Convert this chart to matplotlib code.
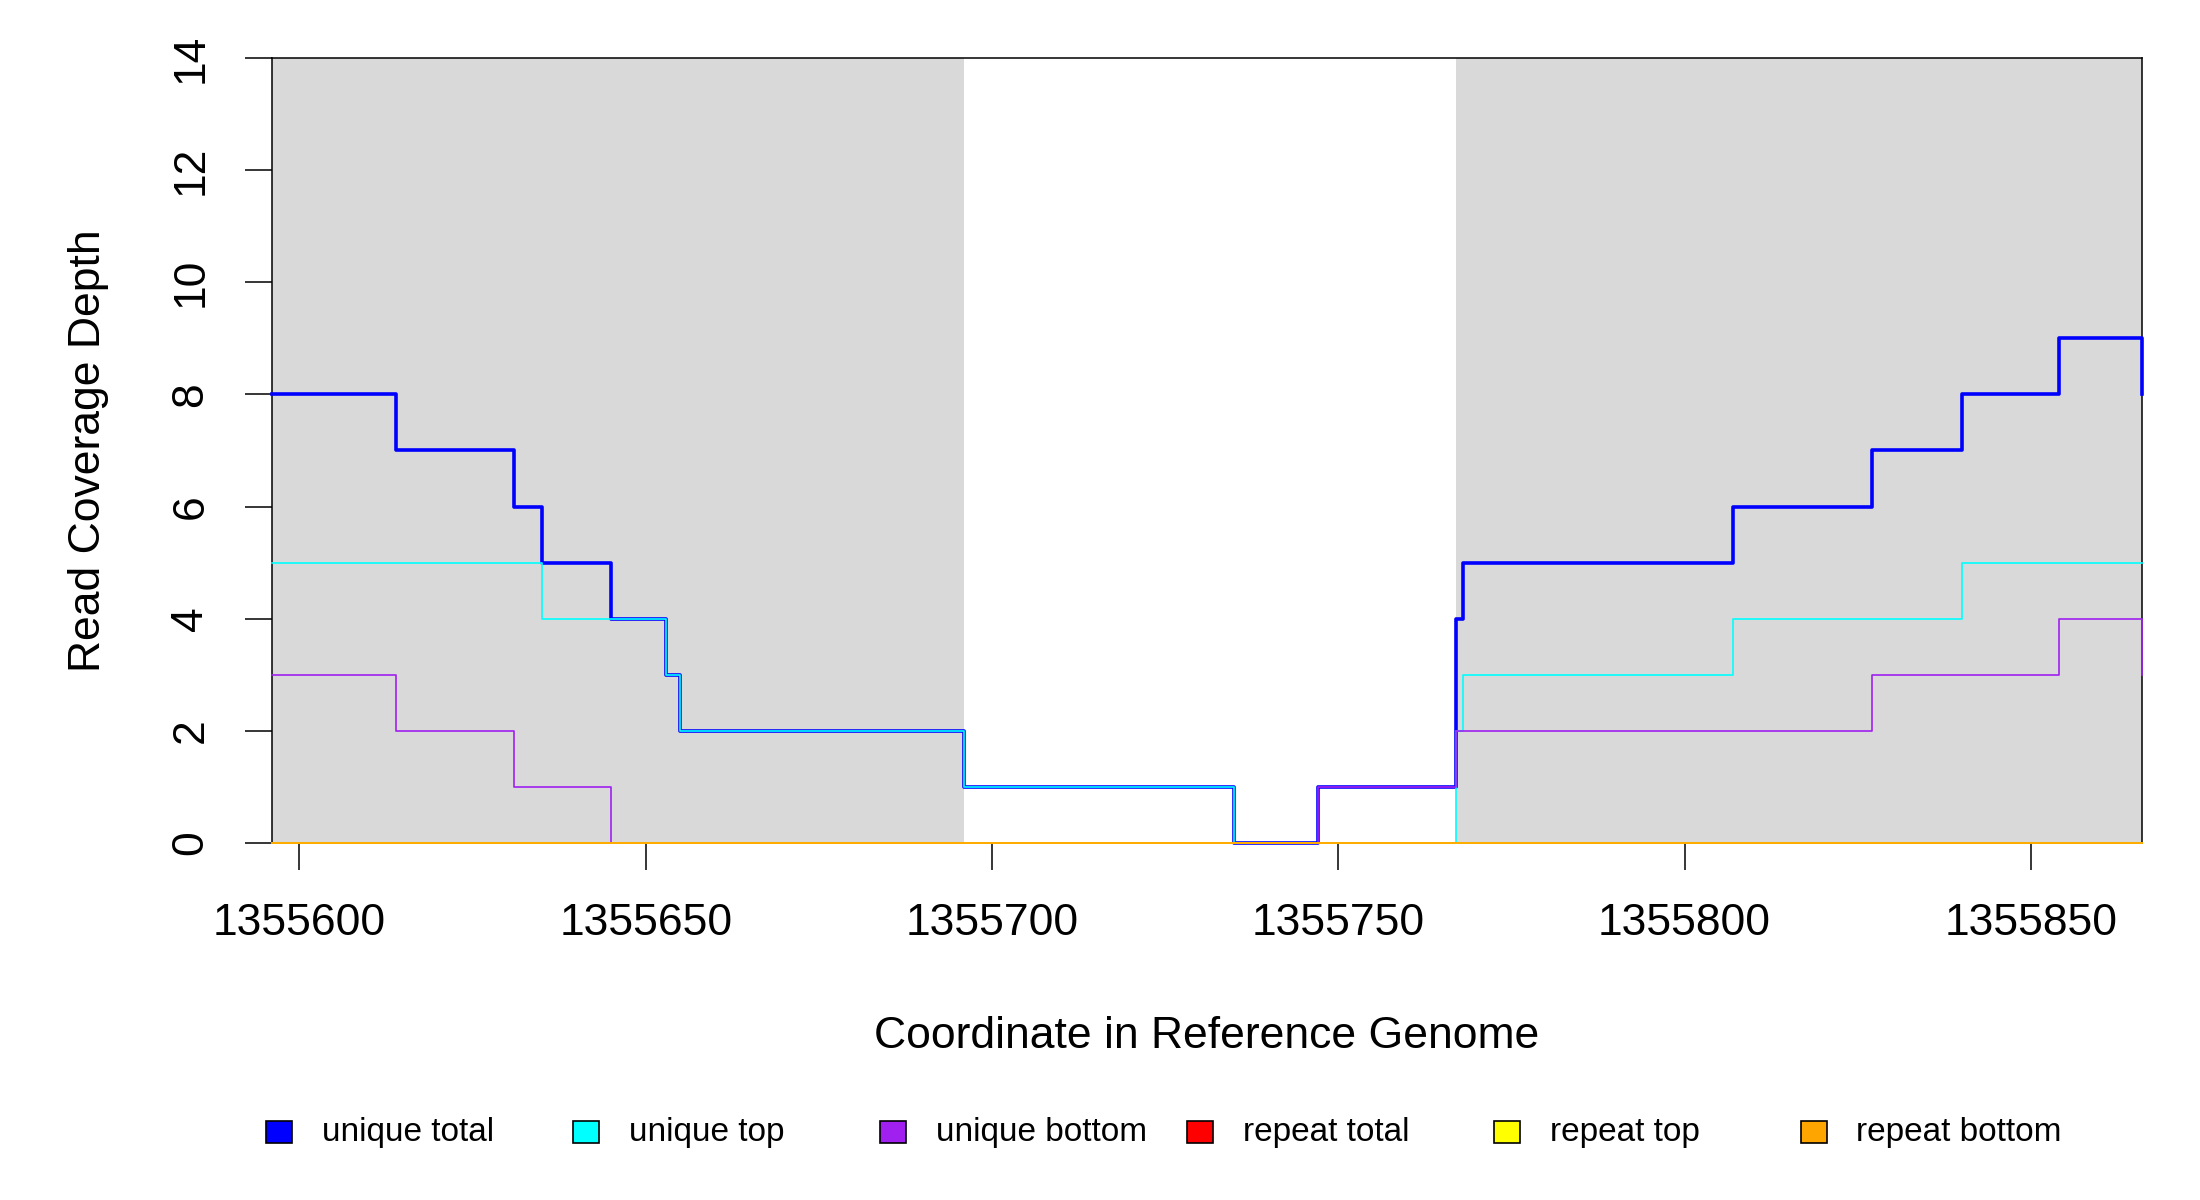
import matplotlib
matplotlib.use('Agg')
import matplotlib.pyplot as plt
from matplotlib.patches import Rectangle

plt.rcParams['font.family'] = ['Liberation Sans', 'DejaVu Sans']

# breakpoints along the reference genome (step starts) and coverage after each
positions = [1355596, 1355614, 1355631, 1355635, 1355645, 1355653, 1355655,
             1355696, 1355735, 1355747, 1355767, 1355768, 1355807, 1355827,
             1355840, 1355854, 1355866]
unique_total = [8, 7, 6, 5, 4, 3, 2, 1, 0, 1, 4, 5, 6, 7, 8, 9, 8]
unique_top = [5, 5, 5, 4, 4, 3, 2, 1, 0, 0, 2, 3, 4, 4, 5, 5, 5]
unique_bottom = [3, 2, 1, 1, 0, 0, 0, 0, 0, 1, 2, 2, 2, 3, 3, 4, 3]
repeat_total = [0] * len(positions)
repeat_top = [0] * len(positions)
repeat_bottom = [0] * len(positions)

# shaded (gray) regions
shaded = [(1355596, 1355696), (1355767, 1355866)]

x_ticks = [1355600, 1355650, 1355700, 1355750, 1355800, 1355850]
y_ticks = [0, 2, 4, 6, 8, 10, 12, 14]

series = [
    ('unique total', unique_total, 'blue', 1.3),
    ('unique top', unique_top, 'cyan', 0.6),
    ('unique bottom', unique_bottom, '#A020F0', 0.6),
    ('repeat total', repeat_total, 'red', 0.6),
    ('repeat top', repeat_top, 'yellow', 0.6),
    ('repeat bottom', repeat_bottom, 'orange', 0.6),
]

fig = plt.figure(figsize=(11, 6), dpi=200)
ax = fig.add_axes([0.1235, 0.2975, 0.85, 0.6542])

for start, end in shaded:
    ax.axvspan(start, end, color='#D9D9D9', lw=0, zorder=0)

for name, vals, col, lw in series:
    ax.step(positions, vals, where='post', color=col, lw=lw, zorder=3, clip_on=False)

ax.set_xlim(positions[0], positions[-1])
ax.set_ylim(0, 14)
ax.set_xticks(x_ticks)
ax.set_xticklabels([str(t) for t in x_ticks])
ax.set_yticks(y_ticks)
ax.set_yticklabels([str(t) for t in y_ticks])
ax.tick_params(axis='both', length=9.7, width=0.55, pad=12, labelsize=16, direction='out')
ax.tick_params(axis='y', labelrotation=90)
for lab in ax.get_yticklabels():
    lab.set_verticalalignment('center')

for sp in ax.spines.values():
    sp.set_linewidth(0.55)
    sp.set_color('black')

ax.set_xlabel('Coordinate in Reference Genome', fontsize=16)
ax.set_ylabel('Read Coverage Depth', fontsize=16)
ax.xaxis.set_label_coords(0.5, -0.22)
ax.yaxis.set_label_coords(-0.087, 0.5)

# horizontal legend with evenly spaced entries (as in R's legend(horiz=TRUE))
W, H = 2200.0, 1200.0
legend_y = 1132
for i, (name, vals, col, lw) in enumerate(series):
    left = 266 + 306.9 * i
    fig.patches.append(Rectangle((left / W, 1 - (legend_y + 11) / H), 26 / W, 22 / H,
                                 transform=fig.transFigure, facecolor=col,
                                 edgecolor='black', lw=0.6))
    fig.text((left + 56) / W, 1 - legend_y / H, name, fontsize=12,
             ha='left', va='center')

fig.savefig('out.png', dpi=200)
